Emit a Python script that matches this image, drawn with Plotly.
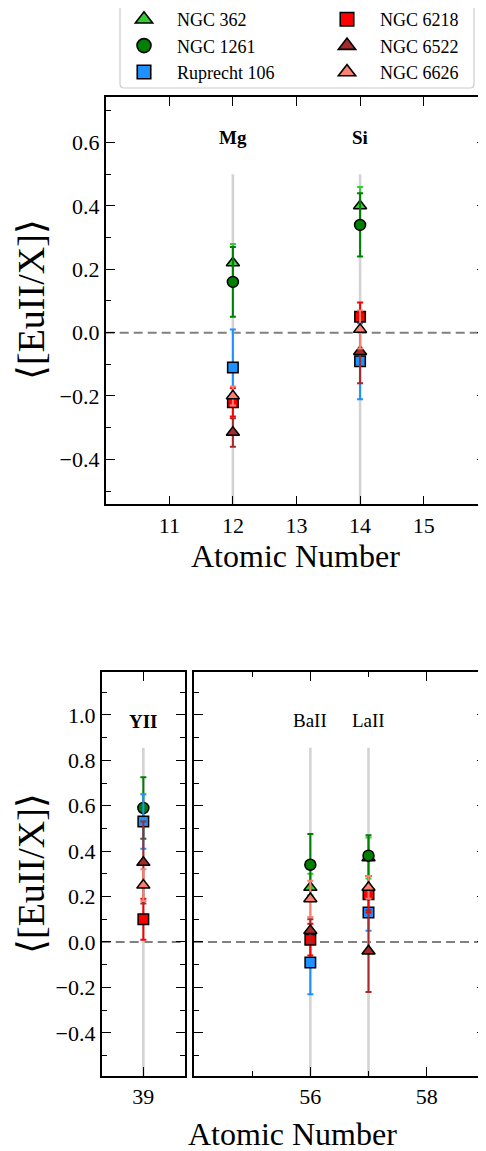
import plotly.graph_objects as go

# ---------------- data ----------------
atomic_numbers = [12, 14, 39, 56, 57]
element_labels = ["Mg", "Si", "YII", "BaII", "LaII"]
element_bold = [True, True, True, False, False]

clusters = ["NGC 362", "NGC 1261", "Ruprecht 106", "NGC 6218", "NGC 6522", "NGC 6626"]
ngc362 = [0.22, 0.40, None, 0.24, 0.37]
ngc362_err = [0.06, 0.06, None, 0.06, 0.09]
ngc1261 = [0.16, 0.34, 0.59, 0.34, 0.38]
ngc1261_err = [0.11, 0.10, 0.135, 0.135, 0.09]
rup106 = [-0.11, -0.09, 0.53, -0.09, 0.13]
rup106_err = [0.12, 0.12, 0.12, 0.14, 0.08]
ngc6218 = [-0.22, 0.05, 0.10, 0.01, 0.21]
ngc6218_err = [0.045, 0.045, 0.09, 0.07, 0.08]
ngc6522 = [-0.315, -0.06, 0.35, 0.05, -0.04]
ngc6522_err = [0.045, 0.10, 0.18, 0.05, 0.18]
ngc6626 = [-0.20, 0.01, 0.25, 0.19, 0.24]
ngc6626_err = [0.03, 0.06, 0.07, 0.08, 0.05]

values = [ngc362, ngc1261, rup106, ngc6218, ngc6522, ngc6626]
errors = [ngc362_err, ngc1261_err, rup106_err, ngc6218_err, ngc6522_err, ngc6626_err]

# ---------------- style ----------------
colors = ["#32CD32", "#008000", "#1E90FF", "#FF0000", "#A52A2A", "#FA8072"]
symbols = ["triangle-up", "circle", "square", "square", "triangle-up", "triangle-up"]
sizes = [11.5, 11, 10.5, 10.5, 11.5, 11.5]
legend_sizes = [15, 14, 13.5, 13.5, 15, 15]
legend_ids = ["legend", "legend", "legend", "legend2", "legend2", "legend2"]

FONT = "Liberation Serif"
OFF = 8  # page body margin
W, H = 486 - OFF, 1151 - OFF


def px(x):
    return (x - OFF) / W


def py(y):
    return 1 - (y - OFF) / H


panels = [
    dict(xa="x", ya="y", idx=[0, 1]),
    dict(xa="x2", ya="y2", idx=[2]),
    dict(xa="x3", ya="y3", idx=[3, 4]),
]

fig = go.Figure()

# legend entries (drawn larger, like the reference legend)
for c_i, name in enumerate(clusters):
    fig.add_trace(go.Scatter(
        x=[None], y=[None], mode="markers", name=name, legend=legend_ids[c_i],
        marker=dict(symbol=symbols[c_i], size=legend_sizes[c_i], color=colors[c_i],
                    line=dict(color="black", width=1.6)),
        showlegend=True, hoverinfo="skip"))

for p_i, p in enumerate(panels):
    for c_i, name in enumerate(clusters):
        xs, ys, es = [], [], []
        for k in p["idx"]:
            if values[c_i][k] is None:
                continue
            xs.append(atomic_numbers[k])
            ys.append(values[c_i][k])
            es.append(errors[c_i][k])
        if not xs:
            continue
        fig.add_trace(go.Scatter(
            x=xs, y=ys, mode="markers", name=name,
            xaxis=p["xa"], yaxis=p["ya"], showlegend=False,
            marker=dict(symbol=symbols[c_i], size=sizes[c_i], color=colors[c_i],
                        line=dict(color="black", width=1.5)),
            error_y=dict(type="data", array=es, visible=True, color=colors[c_i],
                         thickness=2, width=3),
            cliponaxis=False,
        ))

shapes = []
annotations = []
label_y = {0: 0.615, 1: 0.615, 2: 0.97, 3: 0.975, 4: 0.975}
line_top = {0: 0.5, 1: 0.5, 2: 0.855, 3: 0.855, 4: 0.855}
for p in panels:
    xr = p["xa"]
    yr = p["ya"]
    shapes.append(dict(type="line", xref=xr + " domain", yref=yr, x0=0, x1=1, y0=0, y1=0,
                       line=dict(color="#808080", width=2, dash="9px,5px"), layer="below"))
    for k in p["idx"]:
        shapes.append(dict(type="line", xref=xr, yref=yr,
                           x0=atomic_numbers[k], x1=atomic_numbers[k],
                           y0=-0.7, y1=line_top[k], line=dict(color="#D3D3D3", width=2.6),
                           layer="below"))
        annotations.append(dict(
            x=atomic_numbers[k], y=label_y[k], xref=xr, yref=yr, showarrow=False,
            xanchor="center", yanchor="middle",
            text=("<b>%s</b>" % element_labels[k]) if element_bold[k] else element_labels[k],
            font=dict(family=FONT, size=19, color="black")))

# legend box
lx0, lx1, ly0, ly1, r = 120, 474, 4, 88, 4
path = ("M {a},{b} L {c},{b} Q {x1},{y0} {x1},{d} L {x1},{e} Q {x1},{y1} {c},{y1} "
        "L {a},{y1} Q {x0},{y1} {x0},{e} L {x0},{d} Q {x0},{y0} {a},{y0} Z")
shapes.append(dict(type="path", xref="paper", yref="paper",
                   path=path.format(a=px(lx0 + r), b=py(ly0), c=px(lx1 - r), x1=px(lx1), y0=py(ly0),
                                    d=py(ly0 + r), e=py(ly1 - r), y1=py(ly1), x0=px(lx0)),
                   line=dict(color="#CCCCCC", width=1.2), fillcolor="white", layer="below"))

# axis titles
ytitle = "⟨[EuII/X]⟩"
for yc in (300, 874):
    annotations.append(dict(text=ytitle, textangle=-90, x=px(31), y=py(yc), xref="paper", yref="paper",
                            xanchor="center", yanchor="middle", showarrow=False,
                            font=dict(family=FONT, size=38, color="black")))
annotations.append(dict(text="Atomic Number", x=px(295), y=py(556), xref="paper", yref="paper",
                        xanchor="center", yanchor="middle", showarrow=False,
                        font=dict(family=FONT, size=32, color="black")))
annotations.append(dict(text="Atomic Number", x=px(292), y=py(1134), xref="paper", yref="paper",
                        xanchor="center", yanchor="middle", showarrow=False,
                        font=dict(family=FONT, size=32, color="black")))

tickfont = dict(family=FONT, size=22, color="black")
common = dict(showline=True, linecolor="black", linewidth=1.6, mirror="ticks", ticks="inside",
              ticklen=9, tickwidth=1.4, tickcolor="black", showgrid=False, zeroline=False,
              tickfont=tickfont, automargin=False)
yminor = dict(dtick=0.1, ticks="inside", ticklen=5, tickwidth=1.2, tickcolor="black", showgrid=False)

fig.update_layout(
    width=W, height=H, margin=dict(l=0, r=0, t=0, b=0, autoexpand=False),
    paper_bgcolor="white", plot_bgcolor="white",
    font=dict(family=FONT, color="black"),
    xaxis=dict(domain=[px(105.7), 1.0], anchor="y", range=[10, 15.98],
               tickvals=[11, 12, 13, 14, 15], **common),
    yaxis=dict(domain=[py(504.3), py(97.3)], anchor="x", range=[-0.542, 0.743],
               dtick=0.2, tick0=0, tickformat=".1f", minor=yminor, **common),
    xaxis2=dict(domain=[px(101.7), px(185)], anchor="y2", range=[38.5, 39.5],
                tickvals=[39], **common),
    yaxis2=dict(domain=[py(1076), py(671.7)], anchor="x2", range=[-0.59, 1.19],
                dtick=0.2, tick0=0, tickformat=".1f", minor=yminor, **common),
    xaxis3=dict(domain=[px(194), 1.0], anchor="y3", range=[54, 59.02],
                tickvals=[56, 58],
                minor=dict(tickvals=[55, 57], ticks="inside", ticklen=5, tickwidth=1.2,
                           tickcolor="black", showgrid=False),
                **common),
    yaxis3=dict(domain=[py(1076), py(671.7)], anchor="x3", range=[-0.59, 1.19],
                dtick=0.2, tick0=0, showticklabels=False, minor=yminor, **common),
    shapes=shapes,
    annotations=annotations,
    legend=dict(x=px(111), y=py(1), xanchor="left", yanchor="top", bgcolor="rgba(0,0,0,0)",
                font=dict(family=FONT, size=18, color="black"), itemwidth=56,
                tracegroupgap=0),
    legend2=dict(x=px(314), y=py(1), xanchor="left", yanchor="top", bgcolor="rgba(0,0,0,0)",
                 font=dict(family=FONT, size=18, color="black"), itemwidth=56,
                 tracegroupgap=0),
)

fig.write_html("out.html")
